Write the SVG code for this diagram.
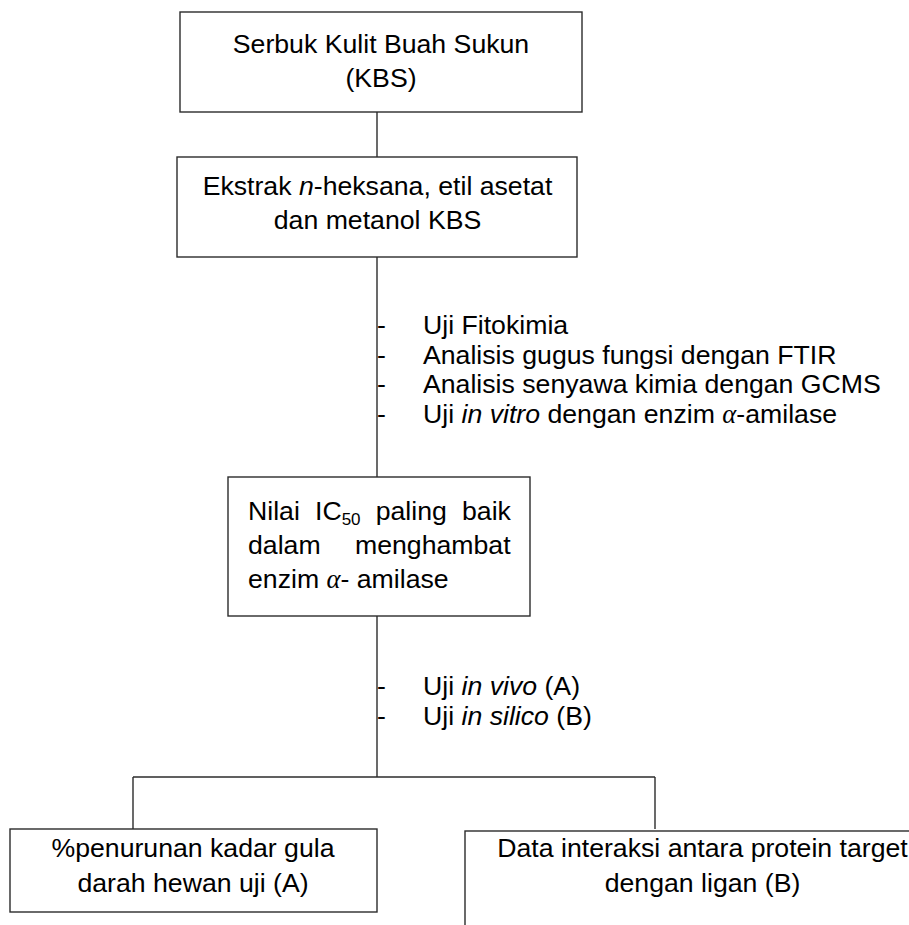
<svg xmlns="http://www.w3.org/2000/svg" width="909" height="925" viewBox="0 0 909 925">
  <style>
    .box { fill: #ffffff; stroke: #2b2b2b; stroke-width: 1.4; }
    .link { stroke: #2b2b2b; stroke-width: 1.4; fill: none; }
    text { font-family: "Liberation Sans", Arial, sans-serif; font-size: 26.67px; fill: #000000; }
    .c { text-anchor: middle; }
    .it { font-style: italic; }
    .alpha { font-family: "Liberation Serif", "DejaVu Serif", serif; font-style: italic; }
    .sub { font-size: 17px; }
  </style>
  <rect width="909" height="925" fill="#ffffff"/>

  <!-- connectors -->
  <g id="connectors">
    <line class="link" x1="377" y1="112" x2="377" y2="157"/>
    <line class="link" x1="377" y1="257" x2="377" y2="477"/>
    <line class="link" x1="377" y1="616" x2="377" y2="777"/>
    <line class="link" x1="133" y1="777" x2="655" y2="777"/>
    <line class="link" x1="133" y1="777" x2="133" y2="829"/>
    <line class="link" x1="655" y1="777" x2="655" y2="829"/>
  </g>

  <!-- step labels beside the trunk line -->
  <g id="steps-1">
    <text x="377" y="334">-</text><text x="423" y="334">Uji Fitokimia</text>
    <text x="377" y="363.5">-</text><text x="423" y="363.5">Analisis gugus fungsi dengan FTIR</text>
    <text x="377" y="393">-</text><text x="423" y="393">Analisis senyawa kimia dengan GCMS</text>
    <text x="377" y="422.5">-</text><text x="423" y="422.5">Uji <tspan class="it">in vitro</tspan> dengan enzim <tspan class="alpha">α</tspan>-amilase</text>
  </g>
  <g id="steps-2">
    <text x="377" y="695">-</text><text x="423" y="695">Uji <tspan class="it">in vivo</tspan> (A)</text>
    <text x="377" y="724.5">-</text><text x="423" y="724.5">Uji <tspan class="it">in silico</tspan> (B)</text>
  </g>

  <g id="node-serbuk">
    <rect class="box" x="180" y="12" width="402" height="100"/>
    <text class="c" x="381" y="53">Serbuk Kulit Buah Sukun</text>
    <text class="c" x="381" y="86.5">(KBS)</text>
  </g>

  <g id="node-ekstrak">
    <rect class="box" x="177" y="157" width="400" height="100"/>
    <text class="c" x="377.5" y="195">Ekstrak <tspan class="it">n</tspan>-heksana, etil asetat</text>
    <text class="c" x="377.5" y="229">dan metanol KBS</text>
  </g>

  <g id="node-ic50">
    <rect class="box" x="228" y="477" width="302" height="139"/>
    <text x="248" y="520">Nilai</text>
    <text x="315" y="520">IC<tspan class="sub" dy="5">50</tspan></text>
    <text x="375.7" y="520">paling</text>
    <text x="462" y="520">baik</text>
    <text x="248" y="554">dalam</text>
    <text x="355" y="554">menghambat</text>
    <text x="248" y="588">enzim <tspan class="alpha">α</tspan>- amilase</text>
  </g>

  <g id="node-gula">
    <rect class="box" x="10" y="829" width="367" height="83"/>
    <text class="c" x="193" y="857">%penurunan kadar gula</text>
    <text class="c" x="193" y="892">darah hewan uji (A)</text>
  </g>

  <g id="node-interaksi">
    <rect class="box" x="465" y="831" width="480" height="110"/>
    <text class="c" x="702.5" y="857">Data interaksi antara protein target</text>
    <text class="c" x="702.5" y="892">dengan ligan (B)</text>
  </g>
</svg>
